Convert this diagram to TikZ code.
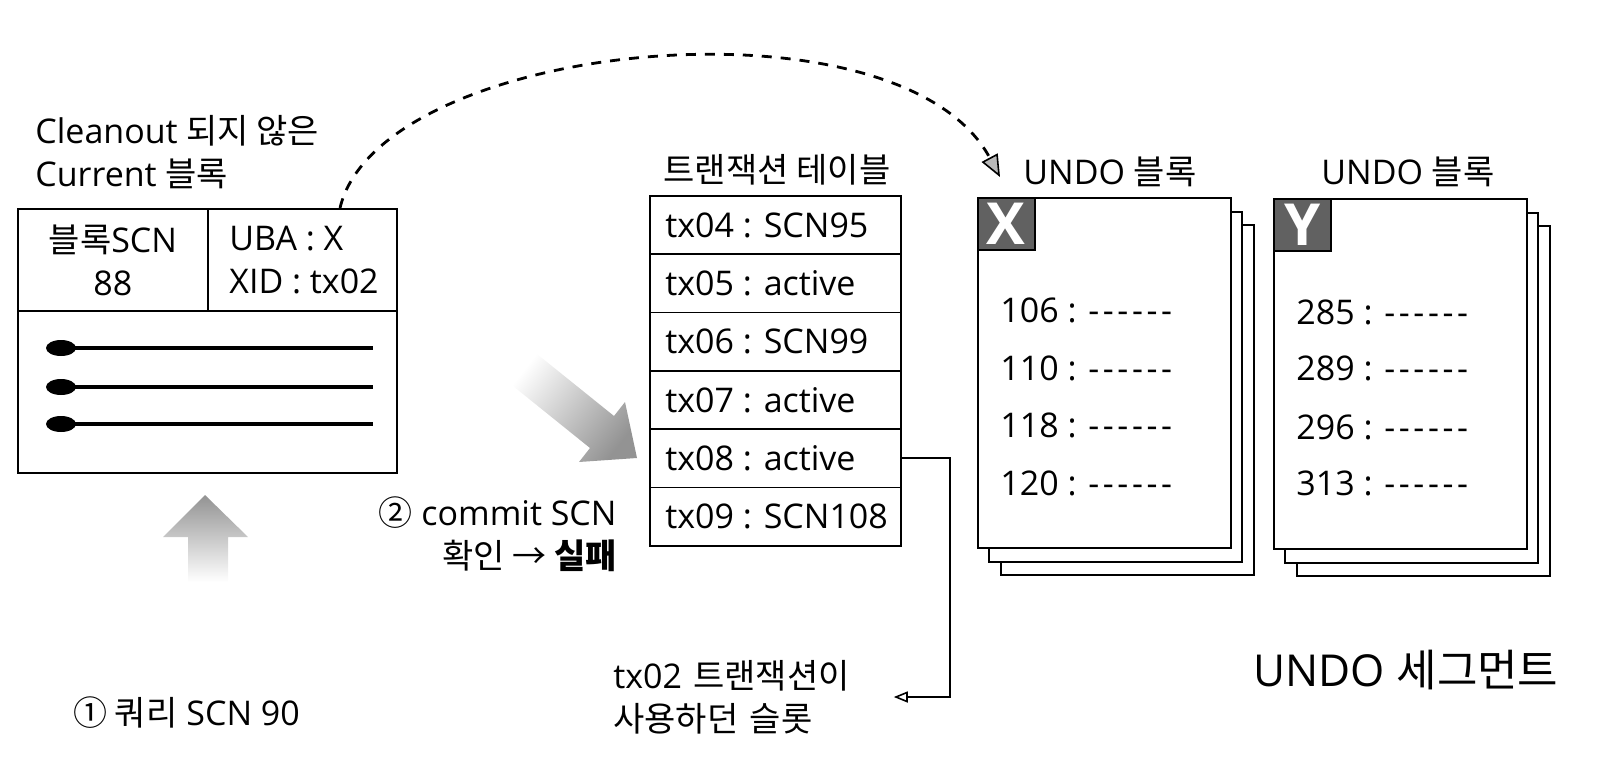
\documentclass[tikz,border=0pt]{standalone}
\usepackage{fontspec}
\setmainfont{Open Sans}
\newfontfamily\kr{Noto Sans CJK KR}
\newcommand\kor[1]{{\kr #1}}
\newcommand\dashrow{-\kern1.8pt-\kern1.8pt-\kern1.8pt-\kern1.8pt-\kern1.8pt-}
\usetikzlibrary{arrows.meta,calc}
\begin{document}
\begin{tikzpicture}[x=0.5pt,y=-0.5pt,
  every node/.style={font=\fontsize{17}{21.5}\selectfont, inner sep=0pt},
  wh/.style n args={2}{minimum width=#1*0.5pt, minimum height=#2*0.5pt},
  box/.style={draw, line width=0.9pt, anchor=north west, fill=white},
  lbl/.style={draw, line width=0.8pt, anchor=north west, fill=black!62, text=white,
    minimum width=28.5pt, minimum height=26pt, font=\fontsize{29}{29}\selectfont\bfseries},
  lollipop/.style={line width=1.8pt},
  arc/.style={line width=1.4pt, dash pattern=on 5pt off 4.5pt,
    -{Triangle[length=11pt,width=9pt,fill=gray!55,line width=0.8pt]}},
  conn/.style={line width=1pt, -{Triangle[open,length=7pt,width=5.5pt,line width=0.8pt]}},
]
\useasboundingbox (0,0) rectangle (1622,766);

% ---- Current block ----
\node[anchor=west, align=left] (cap) at (35,152) {Cleanout \kor{되지 않은}\\Current \kor{블록}};
\node[box, wh={379}{264}] (blk) at (17,208) {};
\node[box, wh={190}{102}] (scn) at (17,208) {};
\node[box, wh={189}{102}] (uba) at (207,208) {};
\node[align=center] (scntxt) at (scn.center) {\kor{블록}SCN\\88};
\node[align=left, anchor=west] (ubatxt) at ($(uba.west)+(22,0)$) {UBA : X\\XID : tx02};
\foreach \yy in {348,387,424} {
  \fill (61,\yy) ellipse (7.5pt and 4pt);
  \draw[lollipop] (61,\yy) -- (373,\yy);
}

% ---- gray arrows ----
\shade[top color=gray!85, bottom color=white]
  (205,495) -- (248,537) -- (228,537) -- (228,582) -- (188,582) -- (188,537) -- (163,537) -- cycle;
\shade[top color=white, bottom color=gray!85, shading angle=52]
  (508,382) -- (590,448) -- (579,462) -- (637,458) -- (625,402) -- (614,416) -- (532,350) -- cycle;

\node[anchor=west] (q1) at (73,713) {\kor{① 쿼리} SCN 90};
\node[anchor=east, align=right] (q2) at (617,534) {\kor{②} commit SCN\\\kor{확인 → {\bfseries 실패}}};

% ---- transaction table ----
\node (ttitle) at (777,170) {\kor{트랜잭션 테이블}};
\foreach \i/\t in {1/tx04 : SCN95, 2/tx05 : active, 3/tx06 : SCN99, 4/tx07 : active, 5/tx08 : active, 6/tx09 : SCN108} {
  \node[box, wh={251}{58.33}] (r\i) at (649,{195+(\i-1)*58.33}) {};
  \node[anchor=west] (t\i) at ($(r\i.west)+(16,0)$) {\t};
}
\node[anchor=west, align=left, text width=140pt] (slot) at (613,697) {tx02 \kor{트랜잭션이}\\\kor{사용하던 슬롯}};
\draw[conn] (r5.east) -- ++(48,0) |- (slot.east);

% ---- UNDO block X ----
\node (xtitle) at (1110,172) {UNDO \kor{블록}};
\node[box, wh={253}{350}] (x3) at (1000,224) {};
\node[box, wh={253}{350}] (x2) at (988,211) {};
\node[box, wh={253}{350}] (x1) at (977,197) {};
\node[lbl] (xl) at (x1.north west) {X};
\foreach \k/\v/\o in {1/106/113, 2/110/171, 3/118/228, 4/120/286}
  \node[anchor=west] (xr\k) at ($(x1.north west)+(23,\o)$) {\v{} : \dashrow};

% ---- UNDO block Y ----
\node (ytitle) at (1408,172) {UNDO \kor{블록}};
\node[box, wh={253}{350}] (y3) at (1296,225) {};
\node[box, wh={253}{350}] (y2) at (1284,212) {};
\node[box, wh={253}{350}] (y1) at (1273,198) {};
\node[lbl] (yl) at (y1.north west) {Y};
\foreach \k/\v/\o in {1/285/114, 2/289/170, 3/296/229, 4/313/285}
  \node[anchor=west] (yr\k) at ($(y1.north west)+(23,\o)$) {\v{} : \dashrow};

\node[font=\fontsize{22}{26}\selectfont] (seg) at (1406,670) {UNDO \kor{세그먼트}};

% ---- dashed arc ----
\coordinate (arcS) at ($(blk.north west)+(323,0)$);
\coordinate (arcE) at (1000,177);
\draw[arc] (arcS) .. controls (380,40) and (900,-10) .. (arcE);
\end{tikzpicture}
\end{document}
